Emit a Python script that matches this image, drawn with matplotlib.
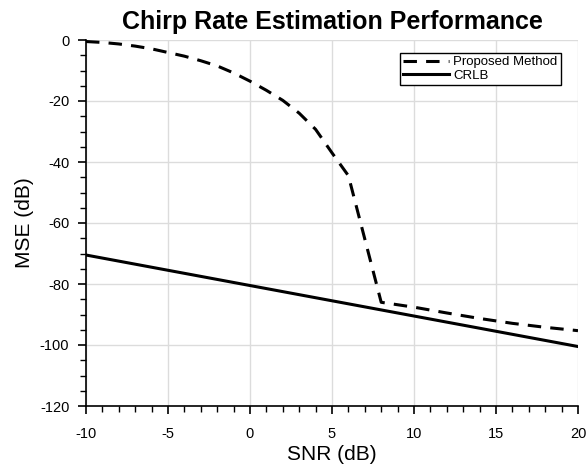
import matplotlib
matplotlib.use("Agg")
import matplotlib.pyplot as plt
from matplotlib.ticker import MultipleLocator
import numpy as np

snr_db = [-10, -9, -8, -7, -6, -5, -4, -3, -2, -1, 0, 1, 2, 3, 4, 5, 6, 8,
          10, 12, 14, 16, 18, 20]
proposed_mse_db = [-0.5, -0.8, -1.3, -2.0, -2.9, -4.1, -5.3, -6.8, -8.5, -10.8,
                   -13.5, -16.5, -19.8, -24.0, -29.3, -37.0, -44.5, -86.0,
                   -87.6, -89.5, -91.3, -92.9, -94.2, -95.3]
crlb_snr_db = [-10, 20]
crlb_mse_db = [-70.5, -100.5]

title = "Chirp Rate Estimation Performance"
xlabel = "SNR (dB)"
ylabel = "MSE (dB)"
labels = ["Proposed Method", "CRLB"]

plt.rcParams['font.family'] = ['Liberation Sans', 'DejaVu Sans']
plt.rcParams['axes.unicode_minus'] = False

fig = plt.figure(figsize=(5.87, 4.71), dpi=100)
ax = fig.add_axes([86/587, 1-406/471, (578-86)/587, (406-40)/471])

ax.plot(snr_db, proposed_mse_db, color='black', lw=2.2, linestyle=(0, (4.4, 3.0)),
        label=labels[0])
ax.plot(crlb_snr_db, crlb_mse_db, color='black', lw=2.2, linestyle='-', label=labels[1])

ax.set_xlim(-10, 20)
ax.set_ylim(-120, 0)
ax.xaxis.set_major_locator(MultipleLocator(5))
ax.xaxis.set_minor_locator(MultipleLocator(1))
ax.yaxis.set_major_locator(MultipleLocator(20))
ax.yaxis.set_minor_locator(MultipleLocator(5))
ax.grid(True, which='major', color='#dcdcdc', lw=1.0)
ax.set_axisbelow(True)
for s in ['top', 'right']:
    ax.spines[s].set_visible(False)
for s in ['left', 'bottom']:
    ax.spines[s].set_linewidth(1.2)
ax.tick_params(which='major', direction='out', length=6, width=1.2, labelsize=10.5)
ax.tick_params(axis='x', which='major', pad=9)
ax.tick_params(axis='y', which='major', pad=6)
ax.tick_params(which='minor', direction='out', length=4, width=1.0)

ax.set_title(title, fontsize=18, fontweight='bold', pad=8)
ax.set_xlabel(xlabel, fontsize=15, labelpad=3)
ax.set_ylabel(ylabel, fontsize=15, labelpad=4)

leg = ax.legend(loc='upper right', bbox_to_anchor=(0.965, 0.965), fontsize=9.5,
                frameon=True, fancybox=False, edgecolor='black', framealpha=1,
                handlelength=3.5, handletextpad=0.3, borderpad=0.25, labelspacing=0.1,
                borderaxespad=0)
leg.get_frame().set_linewidth(1.0)

fig.savefig("out.png", dpi=100)
